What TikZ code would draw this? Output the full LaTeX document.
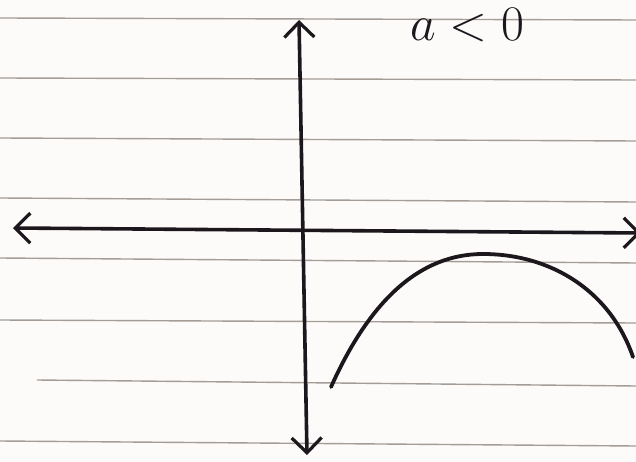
\documentclass[tikz,border=0pt]{standalone}
\usepackage{tikz}
\usetikzlibrary{arrows.meta,positioning}
\definecolor{cPaper}{HTML}{FCFBF9}
\definecolor{cRule}{HTML}{A39C97}
\definecolor{cPen}{HTML}{1B171C}
\tikzset{
  rule/.style={draw=cRule,line width=1.4pt},
  axis/.style={{Straight Barb[length=15pt,width=30pt,line width=3.2pt]}-{Straight Barb[length=15pt,width=30pt,line width=3.2pt]},draw=cPen,line width=3.6pt,line cap=round},
  curve/.style={draw=cPen,line width=3.8pt,line cap=round,line join=round},
  lbl/.style={font=\Huge,text=cPen,scale=2,inner sep=0pt},
}
\begin{document}
\begin{tikzpicture}[x=1pt,y=-1pt]
  % paper
  \clip (0,0) rectangle (636,462);
  \fill[cPaper] (0,0) rectangle (636,462);
  % ruled lines (left y / right y)
  \foreach \yl/\yr in {18/20,78/80,138/141,198/202,258/263,320/323,441/446}{
    \draw[rule] (0,\yl) -- (636,\yr);}
  \draw[rule] (37,380) -- (636,386);
  % axes
  \coordinate (yTop) at (299,20);
  \coordinate (yBot) at (307,455);
  \coordinate (xLeft) at (13,228);
  \coordinate (xRight) at (641,233);
  \draw[axis] (yBot) -- (yTop);
  \draw[axis] (xLeft) -- (xRight);
  % parabola, a<0
  \coordinate (pStart) at (331,387);
  \coordinate (pTop) at (483,254);
  \coordinate (pEnd) at (633,357);
  \draw[curve] (pStart) .. controls (370,300) and (420,254) .. (pTop)
               .. controls (550,254) and (610,290) .. (pEnd);
  \node[lbl,anchor=base] (sign) at (467,41) {$a<0$};
\end{tikzpicture}
\end{document}
